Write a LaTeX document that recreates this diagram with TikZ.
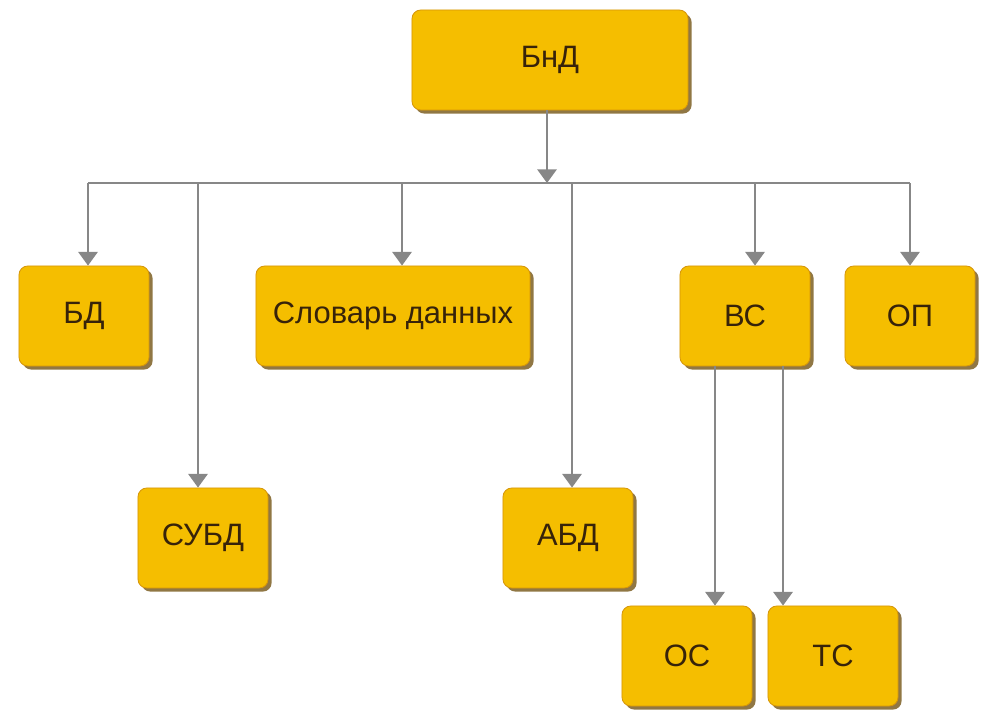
\documentclass[tikz,border=0pt]{standalone}
\usepackage{fontspec}
\setmainfont{Liberation Sans}
\usetikzlibrary{arrows.meta,shadows}

\definecolor{boxfill}{RGB}{245,190,0}
\definecolor{boxline}{RGB}{214,150,10}
\definecolor{boxtext}{RGB}{55,35,10}
\definecolor{boxshadow}{RGB}{125,95,35}
\definecolor{arrgrey}{RGB}{135,135,135}

\tikzset{
  blk/.style={draw=boxline, fill=boxfill, rounded corners=0.22cm, line width=0.6pt,
    minimum width=3.25cm, minimum height=2.5cm, text=boxtext,
    font=\fontsize{22}{26}\selectfont,
    drop shadow={shadow xshift=0.09cm, shadow yshift=-0.09cm, fill=boxshadow, opacity=0.85}},
  arr/.style={draw=arrgrey, line width=1.5pt, -{Triangle[width=0.48cm,length=0.34cm]}}
}

\begin{document}
\begin{tikzpicture}[x=0.025cm,y=-0.025cm]
      \useasboundingbox (0,0) rectangle (984,710);
      \node[blk, minimum width=6.9cm] (bnd) at (550,60) {БнД};
      \node[blk] (bd) at (84,316) {БД};
      \node[blk, minimum width=6.85cm] (slov) at (393,316) {Словарь данных};
      \node[blk] (vs) at (745,316) {ВС};
      \node[blk] (op) at (910,316) {ОП};
      \node[blk] (subd) at (203,538) {СУБД};
      \node[blk] (abd) at (568,538) {АБД};
      \node[blk] (os) at (687,656) {ОС};
      \node[blk] (ts) at (833,656) {ТС};
      % shared bus under the top box
      \coordinate (busmid) at (547,183);
      \coordinate (bus1) at (88,183);
      \coordinate (bus2) at (198,183);
      \coordinate (bus3) at (402,183);
      \coordinate (bus4) at (572,183);
      \coordinate (bus5) at (755,183);
      \coordinate (bus6) at (910,183);
      \draw[arr] (busmid |- bnd.south) -- (busmid);
      \draw[arrgrey, line width=1.5pt] (bus1) -- (bus6);
      \draw[arr] (bus1) -- (bus1 |- bd.north);
      \draw[arr] (bus2) -- (bus2 |- subd.north);
      \draw[arr] (bus3) -- (bus3 |- slov.north);
      \draw[arr] (bus4) -- (bus4 |- abd.north);
      \draw[arr] (bus5) -- (bus5 |- vs.north);
      \draw[arr] (bus6) -- (bus6 |- op.north);
      % ВС splits
      \draw[arr] ([xshift=-0.75cm]vs.south) -- ([xshift=-0.75cm]vs.south |- os.north);
      \draw[arr] ([xshift=0.95cm]vs.south) -- ([xshift=0.95cm]vs.south |- ts.north);
    \end{tikzpicture}
\end{document}
